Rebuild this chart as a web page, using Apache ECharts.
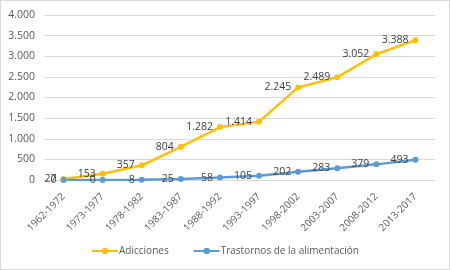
<!DOCTYPE html>
<html>
<head>
<meta charset="utf-8">
<script src="https://cdn.jsdelivr.net/npm/echarts@6/dist/echarts.min.js"></script>
<style>
html,body{margin:0;padding:0;background:#fff;}
#graph1{width:450px;height:270px;box-sizing:border-box;border:1px solid #d9d9d9;}
</style>
</head>
<body>
<div id="graph1"></div>
<script>
// periodos y series
var periodos = ['1962-1972','1973-1977','1978-1982','1983-1987','1988-1992','1993-1997','1998-2002','2003-2007','2008-2012','2013-2017'];
var adicciones = [27, 153, 357, 804, 1282, 1414, 2245, 2489, 3052, 3388];
var trastornos = [0, 0, 8, 25, 58, 105, 202, 283, 379, 493];
var nombres = ['Adicciones', 'Trastornos de la alimentación'];

// separador de miles con punto
function fmt(v) {
    return String(v).replace(/\B(?=(\d{3})+(?!\d))/g, '.');
}

var myChart = echarts.init(document.getElementById('graph1'));

var etiqueta = {
    show: true,
    position: 'left',
    distance: 4,
    color: '#404040',
    fontSize: 10.5,
    fontFamily: 'Open Sans',
    formatter: function (p) { return fmt(p.value); }
};

var option = {
    animation: false,
    textStyle: {fontFamily: 'Open Sans'},
    grid: {left: 43, right: 14, top: 14, bottom: 89},
    legend: {
        data: nombres,
        bottom: 8,
        left: 'center',
        itemWidth: 26,
        itemHeight: 8,
        itemGap: 24,
        textStyle: {color: '#595959', fontSize: 10, padding: [0, 0, 0, -4]}
    },
    xAxis: {
        type: 'category',
        data: periodos,
        boundaryGap: true,
        axisLine: {lineStyle: {color: '#d9d9d9'}},
        axisTick: {show: false},
        axisLabel: {rotate: 45, interval: 0, color: '#595959', fontSize: 10, margin: 15}
    },
    yAxis: {
        type: 'value',
        min: 0,
        max: 4000,
        interval: 500,
        axisLine: {show: false},
        axisTick: {show: false},
        splitLine: {lineStyle: {color: '#d9d9d9'}},
        axisLabel: {color: '#595959', fontSize: 10.5, margin: 9, formatter: fmt}
    },
    series: [
        {
            name: nombres[0],
            type: 'line',
            data: adicciones,
            symbol: 'circle',
            symbolSize: 6,
            lineStyle: {color: '#FFC000', width: 2.5},
            itemStyle: {color: '#FFC000'},
            label: etiqueta
        },
        {
            name: nombres[1],
            type: 'line',
            data: trastornos,
            symbol: 'circle',
            symbolSize: 6,
            lineStyle: {color: '#5B9BD5', width: 2.5},
            itemStyle: {color: '#5B9BD5'},
            label: etiqueta
        }
    ]
};

myChart.setOption(option, true);
</script>
</body>
</html>
